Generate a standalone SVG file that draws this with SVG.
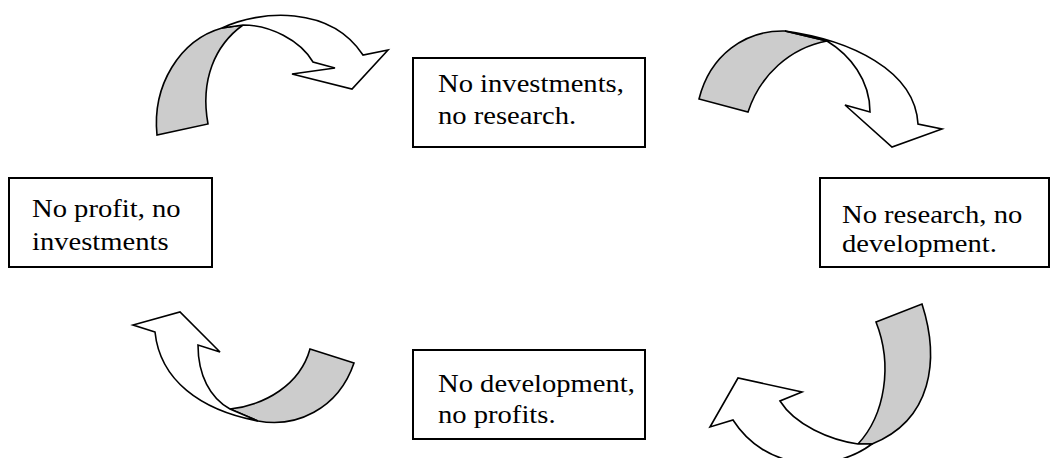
<svg xmlns="http://www.w3.org/2000/svg" width="1052" height="458" viewBox="0 0 1052 458">
  <style>
    .box { fill: #ffffff; stroke: #000000; stroke-width: 2; }
    .back { fill: #cccccc; stroke: #000000; stroke-width: 1.6; stroke-linejoin: miter; }
    .front { fill: #ffffff; stroke: #000000; stroke-width: 1.6; stroke-linejoin: miter; }
  </style>

  <!-- curved ribbon arrows between the statements -->
  <g id="connectors">
    <g id="arrow-top-left">
      <path class="back" d="M157,135 C152,85 180,40 222,28 L243,25 C215,45 200,80 208,124 Z"/>
      <path class="front" d="M222,28 C260,10 330,5 363,55 L388,50 L352,89 L292,74 L335,68 L313,62 C300,40 270,25 243,25 Z"/>
    </g>
    <g id="arrow-top-right">
      <path class="back" d="M699,99 C710,55 745,30 785,31 L827,41 C790,48 760,75 748,112 Z"/>
      <path class="front" d="M785,31 C850,40 915,70 918,124 L942,129 L892,147 L845,105 L870,112 C870,80 850,55 827,41 Z"/>
    </g>
    <g id="arrow-bottom-right">
      <path class="back" d="M876,322 L922,304 C940,360 932,420 872,444 L858,444 C885,415 893,365 876,322 Z"/>
      <path class="front" d="M858,444 C830,440 795,425 780,401 L802,392 L738,378 L710,427 L733,420 C765,470 830,475 872,444 Z"/>
    </g>
    <g id="arrow-bottom-left">
      <path class="back" d="M310,349 L354,363 C338,410 295,428 258,421 L230,409 C265,405 300,385 310,349 Z"/>
      <path class="front" d="M155,332 L133,325 L180,312 L220,352 L198,345 C198,375 210,398 230,409 L258,421 C200,410 160,380 155,332 Z"/>
    </g>
  </g>

  <g font-family="'Liberation Serif', 'DejaVu Serif', serif" font-size="26" fill="#000000">
    <g id="node-profit">
      <rect class="box" x="9" y="178" width="203" height="89"/>
      <g transform="translate(32,0) scale(1.1,1)">
        <text x="0" y="217">No profit, no</text>
        <text x="0" y="250">investments</text>
      </g>
    </g>

    <g id="node-investments">
      <rect class="box" x="413" y="58" width="232" height="89"/>
      <g transform="translate(438,0) scale(1.1,1)">
        <text x="0" y="92">No investments,</text>
        <text x="0" y="124">no research.</text>
      </g>
    </g>

    <g id="node-research">
      <rect class="box" x="820" y="178" width="229" height="89"/>
      <g transform="translate(842,0) scale(1.1,1)">
        <text x="0" y="223">No research, no</text>
        <text x="0" y="252">development.</text>
      </g>
    </g>

    <g id="node-development">
      <rect class="box" x="413" y="350" width="232" height="89"/>
      <g transform="translate(438,0) scale(1.1,1)">
        <text x="0" y="392">No development,</text>
        <text x="0" y="423">no profits.</text>
      </g>
    </g>
  </g>
</svg>
